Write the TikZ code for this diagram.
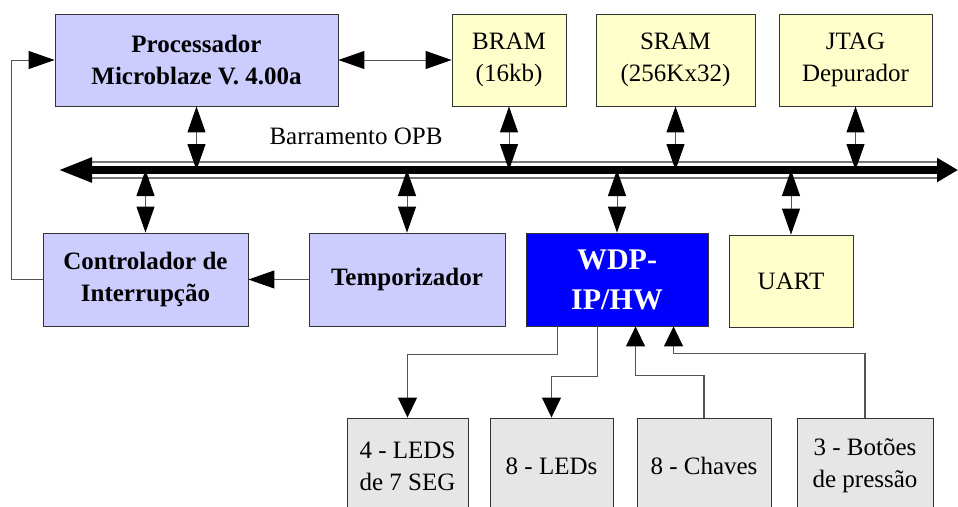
\documentclass[tikz,border=0pt]{standalone}
\usepackage{fontspec}
\setmainfont{Liberation Serif}
\usepackage{tikz}
\usetikzlibrary{positioning, arrows.meta, calc}
\definecolor{lilac}{RGB}{204,204,255}
\definecolor{cream}{RGB}{255,255,204}
\definecolor{pale}{RGB}{230,230,230}
\definecolor{wire}{RGB}{85,85,85}

\begin{document}
\begin{tikzpicture}[
  x=1pt, y=-1pt,
  block/.style={draw=black!80, line width=0.9pt, align=center, inner sep=0pt,
                font=\fontsize{25}{32}\selectfont},
  core/.style={block, fill=lilac, font=\fontsize{25}{32}\selectfont\bfseries},
  memory/.style={block, fill=cream},
  periph/.style={block, fill=pale, minimum height=96pt},
  hw/.style={block, fill=blue, text=white, font=\fontsize{30}{40}\selectfont\bfseries},
  link/.style={{Triangle[length=26pt,width=18pt,color=black]}-{Triangle[length=26pt,width=18pt,color=black]},
               line width=1pt, draw=wire},
  arr/.style={-{Triangle[length=26pt,width=18pt,color=black]}, line width=1pt, draw=wire},
  sig/.style={-{Triangle[length=20pt,width=19pt,color=black]}, line width=1.2pt, draw=wire},
]
  \useasboundingbox (0,0) rectangle (958,506);

  % Top row
  \node[core, minimum width=283pt, minimum height=92pt] (proc) at (196.5,60) {Processador\\Microblaze V. 4.00a};
  \node[memory, minimum width=114pt, minimum height=92pt] (bram) at (509,60) {BRAM\\(16kb)};
  \node[memory, minimum width=159pt, minimum height=92pt] (sram) at (675.5,60) {SRAM\\(256Kx32)};
  \node[memory, minimum width=153pt, minimum height=92pt] (jtag) at (855.5,60) {JTAG\\Depurador};

  % Middle row
  \node[core, minimum width=205pt, minimum height=93pt] (intc) at (145.5,279.5) {Controlador de\\Interrupção};
  \node[core, minimum width=196pt, minimum height=93pt] (timer) at (407,279.5) {Temporizador};
  \node[hw, minimum width=182pt, minimum height=93pt] (wdp) at (617,279.5) {WDP-\\IP/HW};
  \node[memory, minimum width=124pt, minimum height=92pt] (uart) at (791,281) {UART};

  % Board I/O
  \node[periph, minimum width=121pt] (seg) at (407.5,466) {4 - LEDS\\de 7 SEG};
  \node[periph, minimum width=123pt] (leds) at (551.5,466) {8 - LEDs};
  \node[periph, minimum width=134pt] (keys) at (704,466) {8 - Chaves};
  \node[periph, minimum width=136pt] (btns) at (865,466) {3 - Botões\\de pressão};

  % OPB bus
  \coordinate (busW) at (58,170);
  \coordinate (busE) at (958,170);
  \draw[draw=wire!80, line width=2pt, double=white, double distance=14pt,
        shorten <=34pt, shorten >=21pt] (busW) -- (busE);
  \draw[line width=8pt, {Triangle[length=34pt,width=23pt]}-{Triangle[length=21pt,width=23pt]}] (busW) -- (busE);
  \node[font=\fontsize{25}{30}\selectfont] (opb) at (356,136) {Barramento OPB};

  % Bus links
  \draw[link] (proc.south) -- (proc.south |- busW);
  \draw[link] (bram.south) -- (bram.south |- busW);
  \draw[link] (sram.south) -- (sram.south |- busW);
  \draw[link] (jtag.south) -- (jtag.south |- busW);
  \draw[link] (intc.north |- busW) -- (intc.north);
  \draw[link] (timer.north |- busW) -- (timer.north);
  \draw[link] (wdp.north |- busW) -- (wdp.north);
  \draw[link] (uart.north |- busW) -- (uart.north);

  % Local connections
  \draw[link] (proc.east) -- (bram.west);
  \draw[arr] (timer.west) -- (intc.east);
  \draw[arr] (intc.west) -- ++(-31,0) |- (proc.west);

  % WDP to board I/O
  \draw[sig] ([xshift=32pt]wdp.south west) -- ++(0,28) -| (seg.north);
  \draw[sig] ([xshift=72pt]wdp.south west) -- ++(0,50) -| (leds.north);
  \draw[sig] (keys.north) -- ++(0,-42) -| ([xshift=110pt]wdp.south west);
  \draw[sig] (btns.north) -- ++(0,-64) -| ([xshift=148pt]wdp.south west);
\end{tikzpicture}
\end{document}
